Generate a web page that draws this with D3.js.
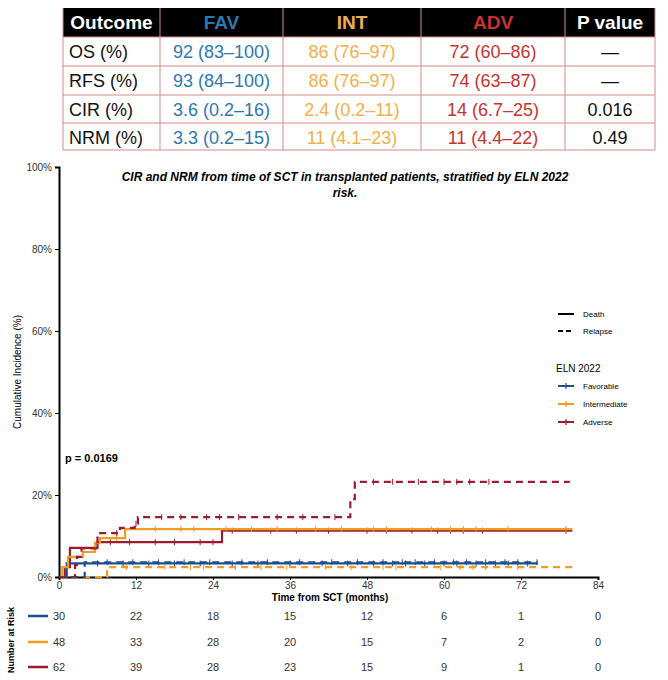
<!DOCTYPE html>
<html><head><meta charset="utf-8">
<script src="https://cdn.jsdelivr.net/npm/d3@7"></script>
<style>body{margin:0;background:#fff}svg{font-family:Arial,"Liberation Sans",sans-serif}</style>
</head><body>
<svg id="c" width="668" height="680"></svg>
<script>
// ---- table data
const tableHead = ["Outcome", "FAV", "INT", "ADV", "P value"];
const tableRows = [
  ["OS (%)", "92 (83–100)", "86 (76–97)", "72 (60–86)", "—"],
  ["RFS (%)", "93 (84–100)", "86 (76–97)", "74 (63–87)", "—"],
  ["CIR (%)", "3.6 (0.2–16)", "2.4 (0.2–11)", "14 (6.7–25)", "0.016"],
  ["NRM (%)", "3.3 (0.2–15)", "11 (4.1–23)", "11 (4.4–22)", "0.49"]
];
const headColors = ["#fff", "#2e78b0", "#f2b04a", "#c8332f", "#fff"];
const cellColors = ["#111", "#2e78b0", "#f2b04a", "#c8332f", "#111"];

// ---- curves: [time, cumulative incidence %]
const favDeath = [[0,0],[1.2,3.3],[74.6,3.3]];
const favRelapse = [[0,0],[4,3.6],[74.6,3.6]];
const intDeath = [[0,0],[0.5,2.4],[1.4,4.9],[3.7,6.1],[5.6,8.3],[6.4,9.5],[10.3,11.7],[80,11.7]];
const intRelapse = [[0,0],[7.5,2.4],[80,2.4]];
const advDeath = [[0,0],[0.9,2.4],[1.7,7.1],[6,8.5],[25.4,11.3],[80,11.3]];
const advRelapse = [[0,0],[2.5,2.9],[2.8,4.9],[3.5,7],[6,10.7],[9.5,12],[11.8,13],[12.3,14.6],[45.4,19],[46.1,23.2],[79.6,23.2]];
// censor marks (months)
const favCens = [6,10,14,18,22,27,31,36,41,45,49,52,54,57,60,62,65,68,70,73];
const intCens = [9,15,19,21,26,30,34,40,44,49,51,58,61,63,65,70,79];
const advCens = [8,11,15,18,22,24,27,33,37,42,48,51,55,59,61,63,66,79];

const riskTimes = [0,12,24,36,48,60,72,84];
const riskFav = [30,22,18,15,12,6,1,0];
const riskInt = [48,33,28,20,15,7,2,0];
const riskAdv = [62,39,28,23,15,9,1,0];

const cBlue = "#1f4e8c", cOrange = "#f39c1f", cRed = "#9b1b30";
const svg = d3.select("#c");

// ---- table
const colX = [63, 160, 283, 421, 565, 655];
const rowY = [8, 37, 66, 95, 123, 150];
svg.append("rect").attr("x", colX[0]).attr("y", rowY[0]).attr("width", colX[5]-colX[0]).attr("height", rowY[1]-rowY[0]).attr("fill", "#000");
tableHead.forEach((h, i) => {
  svg.append("text").attr("x", (colX[i]+colX[i+1])/2).attr("y", rowY[0]+21).attr("text-anchor", "middle")
    .attr("font-size", 19).attr("font-weight", "bold").attr("fill", headColors[i]).text(h);
});
tableRows.forEach((r, j) => {
  r.forEach((v, i) => {
    svg.append("text").attr("x", i === 0 ? colX[0]+6 : (colX[i]+colX[i+1])/2).attr("y", rowY[j+1]+21)
      .attr("text-anchor", i === 0 ? "start" : "middle").attr("font-size", 18).attr("fill", cellColors[i]).text(v);
  });
});
const grid = svg.append("g").attr("stroke", "#d28a8a").attr("stroke-width", 1);
rowY.slice(1).forEach(y => grid.append("line").attr("x1", colX[0]).attr("x2", colX[5]).attr("y1", y).attr("y2", y));
colX.forEach(x => grid.append("line").attr("x1", x).attr("x2", x).attr("y1", rowY[0]).attr("y2", rowY[5]));

// ---- plot
const x = d3.scaleLinear().domain([0, 84]).range([59, 598]);
const y = d3.scaleLinear().domain([0, 100]).range([577, 167]);

svg.append("g").attr("transform", "translate(0,577)")
  .call(d3.axisBottom(x).tickValues(riskTimes).tickSize(3).tickPadding(2))
  .call(g => g.selectAll("text").attr("font-size", 10).attr("fill", "#333"))
  .call(g => g.select(".domain").attr("stroke-width", 2));
svg.append("g").attr("transform", "translate(59,0)")
  .call(d3.axisLeft(y).tickValues([0,20,40,60,80,100]).tickFormat(d => d + "%").tickSize(4))
  .call(g => g.selectAll("text").attr("font-size", 10).attr("fill", "#333"))
  .call(g => g.select(".domain").attr("stroke-width", 2));

svg.append("text").attr("x", 330).attr("y", 601).attr("text-anchor", "middle").attr("font-size", 10).attr("font-weight", "bold").text("Time from SCT (months)");
svg.append("text").attr("transform", "translate(21,372) rotate(-90)").attr("text-anchor", "middle").attr("font-size", 10).text("Cumulative Incidence (%)");
svg.append("text").attr("x", 345).attr("y", 181).attr("text-anchor", "middle").attr("font-size", 12).attr("font-weight", "bold").attr("font-style", "italic")
  .text("CIR and NRM from time of SCT in transplanted patients, stratified by ELN 2022");
svg.append("text").attr("x", 345).attr("y", 197).attr("text-anchor", "middle").attr("font-size", 12).attr("font-weight", "bold").attr("font-style", "italic").text("risk.");
svg.append("text").attr("x", 65).attr("y", 462).attr("font-size", 11).attr("font-weight", "bold").text("p = 0.0169");

const line = d3.line().x(d => x(d[0])).y(d => y(d[1])).curve(d3.curveStepAfter);
function valAt(pts, t) { let v = 0; pts.forEach(p => { if (p[0] <= t) v = p[1]; }); return v; }
function curve(pts, color, dashed, cens) {
  svg.append("path").datum(pts).attr("d", line).attr("fill", "none").attr("stroke", color)
    .attr("stroke-width", 2.2).attr("stroke-dasharray", dashed ? "7,5" : null);
  svg.append("g").selectAll("line").data(cens.filter(t => t <= pts[pts.length-1][0])).join("line")
    .attr("x1", t => x(t)).attr("x2", t => x(t))
    .attr("y1", t => y(valAt(pts, t)) - 3).attr("y2", t => y(valAt(pts, t)) + 3)
    .attr("stroke", color).attr("stroke-width", 1);
}
curve(advDeath, cRed, false, advCens);
curve(favDeath, cBlue, false, favCens);
curve(intRelapse, cOrange, true, intCens.map(t => t + 1.5));
curve(favRelapse, cBlue, true, favCens.map(t => t + 1.5));
curve(intDeath, cOrange, false, intCens);
curve(advRelapse, cRed, true, advCens.map(t => t + 1));

// ---- legend
const lg = svg.append("g").attr("font-size", 8);
[["Death", null, 314], ["Relapse", "5,3", 331]].forEach(([t, dash, ly]) => {
  lg.append("line").attr("x1", 558).attr("x2", 574).attr("y1", ly).attr("y2", ly).attr("stroke", "#000").attr("stroke-width", 2).attr("stroke-dasharray", dash);
  lg.append("text").attr("x", 583).attr("y", ly + 3).text(t);
});
lg.append("text").attr("x", 556).attr("y", 372).attr("font-size", 10).text("ELN 2022");
[["Favorable", cBlue, 386], ["Intermediate", cOrange, 404], ["Adverse", cRed, 422]].forEach(([t, c, ly]) => {
  lg.append("line").attr("x1", 558).attr("x2", 574).attr("y1", ly).attr("y2", ly).attr("stroke", c).attr("stroke-width", 2);
  lg.append("line").attr("x1", 566).attr("x2", 566).attr("y1", ly - 3).attr("y2", ly + 3).attr("stroke", c).attr("stroke-width", 1.2);
  lg.append("text").attr("x", 583).attr("y", ly + 3).text(t);
});

// ---- number at risk
svg.append("text").attr("transform", "translate(14,640) rotate(-90)").attr("text-anchor", "middle").attr("font-size", 9).attr("font-weight", "bold").text("Number at Risk");
[[riskFav, cBlue, 616], [riskInt, cOrange, 642], [riskAdv, cRed, 667]].forEach(([vals, c, ry]) => {
  svg.append("line").attr("x1", 28).attr("x2", 48).attr("y1", ry).attr("y2", ry).attr("stroke", c).attr("stroke-width", 2.5);
  svg.append("g").selectAll("text").data(vals).join("text")
    .attr("x", (d, i) => x(riskTimes[i])).attr("y", ry + 4).attr("text-anchor", "middle").attr("font-size", 11).attr("fill", "#333").text(d => d);
});
</script>
</body></html>
